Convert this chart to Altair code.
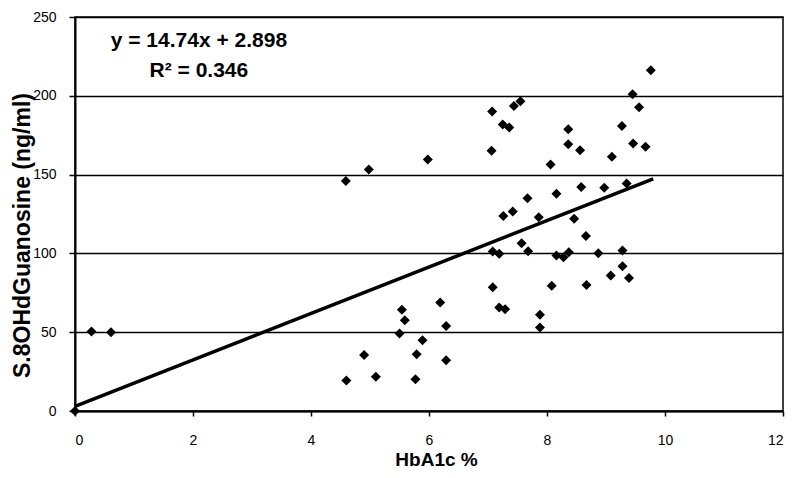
import altair as alt
import pandas as pd

# HbA1c (%) values of the scatter points
hba1c = [0.0, 0.28, 0.61,
         4.59, 4.98, 4.60, 4.90, 5.10,
         5.50, 5.54, 5.59, 5.89, 5.79, 5.77, 5.98,
         6.19, 6.29, 6.29,
         7.06, 7.07, 7.25, 7.36, 7.44, 7.55,
         7.08, 7.19, 7.08, 7.19, 7.29, 7.26, 7.42,
         7.57, 7.68, 7.67, 7.86, 7.88, 7.88,
         8.06, 8.16, 8.08, 8.16, 8.28, 8.37, 8.36, 8.36, 8.46, 8.56, 8.58,
         8.66, 8.67, 8.87, 8.97,
         9.10, 9.08, 9.27, 9.28, 9.28, 9.35, 9.39, 9.45, 9.46, 9.56, 9.67, 9.76]

# S.8OHdGuanosine (ng/ml) values of the scatter points
ohdg = [0.0, 50.5, 50.0,
        146.0, 153.2, 19.4, 35.5, 21.8,
        49.2, 64.2, 57.6, 44.9, 36.0, 20.1, 159.6,
        68.9, 54.0, 32.2,
        165.1, 190.0, 181.8, 179.9, 193.5, 196.5,
        101.2, 99.7, 78.5, 65.7, 64.6, 123.7, 126.6,
        106.5, 101.4, 135.0, 123.0, 61.0, 53.0,
        156.4, 137.9, 79.5, 98.6, 97.6, 100.8, 178.7, 169.3, 122.0, 165.5, 142.2,
        111.0, 79.9, 100.1, 141.7,
        161.3, 85.9, 180.8, 101.8, 91.8, 144.3, 84.4, 201.0, 169.7, 192.7, 167.6, 216.2]

# Linear trend line as printed on the chart: y = 14.74x + 2.898
slope = 14.74
intercept = 2.898
fit_x = [0.0, 9.8]
fit_y = [slope * v + intercept for v in fit_x]

# Equation annotation
eq_text = ["y = 14.74x + 2.898", "R\u00b2 = 0.346"]
eq_x = [2.1, 2.1]
eq_y = [234.5, 216.0]

x_ticks = [0, 2, 4, 6, 8, 10, 12]
y_ticks = [0, 50, 100, 150, 200, 250]

FONT = "Liberation Sans"

pts = pd.DataFrame({"x": hba1c, "y": ohdg})
fit = pd.DataFrame({"x": fit_x, "y": fit_y})
eq = pd.DataFrame({"x": eq_x, "y": eq_y, "t": eq_text})

xscale = alt.Scale(domain=[0, 12], nice=False, zero=False)
yscale = alt.Scale(domain=[0, 250], nice=False)

xaxis = alt.Axis(values=x_ticks, format="d", title="HbA1c %", grid=False,
                 tickSize=5, labelPadding=17, labelFontSize=14,
                 titleFontSize=19, titleX=361, titleY=48,
                 titleBaseline="middle", titleAlign="center")
yaxis = alt.Axis(values=y_ticks, format="d", title="S.8OHdGuanosine (ng/ml)", grid=True,
                 tickSize=6, labelPadding=13, labelFontSize=14,
                 titleFontSize=23, titleX=-53, titleY=218, titleAngle=-90,
                 titleBaseline="middle", titleAlign="center")

points = alt.Chart(pts).mark_point(
    shape="diamond", filled=True, color="black", size=100, opacity=1
).encode(
    x=alt.X("x:Q", scale=xscale, axis=xaxis),
    y=alt.Y("y:Q", scale=yscale, axis=yaxis),
)

line = alt.Chart(fit).mark_line(color="black", strokeWidth=3.5).encode(
    x=alt.X("x:Q", scale=xscale),
    y=alt.Y("y:Q", scale=yscale),
)

text = alt.Chart(eq).mark_text(
    font=FONT, fontSize=21, fontWeight="bold", color="black",
    align="center", baseline="middle"
).encode(
    x=alt.X("x:Q", scale=xscale),
    y=alt.Y("y:Q", scale=yscale),
    text="t:N",
)

chart = alt.layer(line, points, text).properties(
    width=708, height=394,
    autosize=alt.AutoSizeParams(type="none"),
    padding={"left": 67, "top": 9, "right": 2, "bottom": 59},
    background="white",
).configure_view(
    stroke="black", strokeWidth=1.5
).configure_axis(
    domainColor="black", domainWidth=2,
    tickColor="black", tickWidth=1.5,
    gridColor="black", gridWidth=1.5, gridOpacity=1,
    labelColor="black", labelFont=FONT,
    titleColor="black", titleFont=FONT, titleFontWeight="bold",
)

chart.save("out.html", embed_options={"renderer": "svg", "actions": False})
